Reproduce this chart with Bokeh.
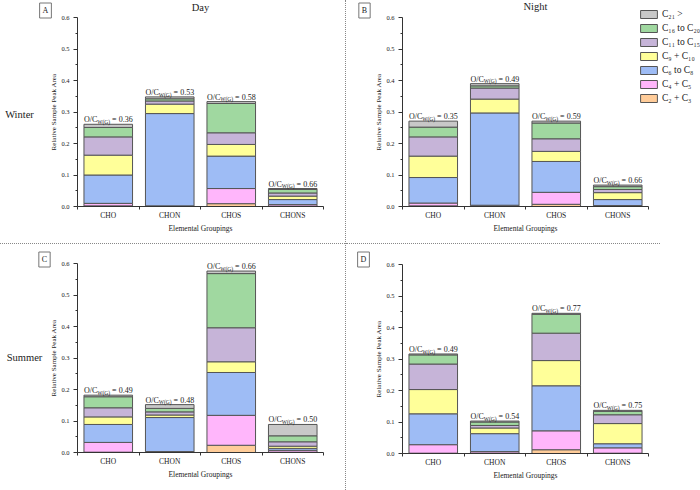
from bokeh.plotting import figure
from bokeh.models import (Range1d, FixedTicker, Label, Legend, LegendItem, Div,
                          ColumnDataSource, PrintfTickFormatter)
from bokeh.layouts import row, column
from bokeh.embed import file_html
from bokeh.resources import INLINE

# ---------------- data ----------------
CATEGORIES = ["CHO", "CHON", "CHOS", "CHONS"]
COMPONENTS = ["c2_3", "c4_5", "c6_8", "c9_10", "c11_15", "c16_20", "c21"]
LEGEND_LABELS = ["C\u2082 + C\u2083", "C\u2084 + C\u2085", "C\u2086 to C\u2088",
                 "C\u2089 + C\u2081\u2080", "C\u2081\u2081 to C\u2081\u2085",
                 "C\u2081\u2086 to C\u2082\u2080", "C\u2082\u2081 >"]
COLORS = ["#ffcc99", "#ffb6fb", "#9ebcf5", "#ffff99", "#c6b4d8", "#a0d8a0", "#c8c8c8"]
Y_TICKS = [0.0, 0.1, 0.2, 0.3, 0.4, 0.5, 0.6]
Y_MINOR = [0.05, 0.15, 0.25, 0.35, 0.45, 0.55]
ROW_LABELS = ["Winter", "Summer"]
COL_LABELS = ["Day", "Night"]
PANEL_LETTERS = ["A", "B", "C", "D"]

# A: Winter / Day
A_C2_3 = [0.002, 0.001, 0.009, 0.001]
A_C4_5 = [0.008, 0.001, 0.048, 0.005]
A_C6_8 = [0.090, 0.293, 0.103, 0.016]
A_C9_10 = [0.063, 0.030, 0.037, 0.011]
A_C11_15 = [0.058, 0.010, 0.037, 0.010]
A_C16_20 = [0.030, 0.007, 0.093, 0.011]
A_C21 = [0.010, 0.006, 0.006, 0.003]
A_OC = [0.36, 0.53, 0.58, 0.66]

# B: Winter / Night
B_C2_3 = [0.002, 0.001, 0.007, 0.001]
B_C4_5 = [0.009, 0.003, 0.038, 0.002]
B_C6_8 = [0.081, 0.293, 0.098, 0.019]
B_C9_10 = [0.068, 0.044, 0.032, 0.022]
B_C11_15 = [0.061, 0.035, 0.040, 0.010]
B_C16_20 = [0.031, 0.007, 0.050, 0.009]
B_C21 = [0.019, 0.007, 0.006, 0.005]
B_OC = [0.35, 0.49, 0.59, 0.66]

# C: Summer / Day
C_C2_3 = [0.001, 0.001, 0.023, 0.001]
C_C4_5 = [0.031, 0.002, 0.095, 0.006]
C_C6_8 = [0.057, 0.108, 0.136, 0.006]
C_C9_10 = [0.024, 0.008, 0.034, 0.007]
C_C11_15 = [0.029, 0.010, 0.108, 0.014]
C_C16_20 = [0.035, 0.011, 0.172, 0.019]
C_C21 = [0.005, 0.012, 0.008, 0.036]
C_OC = [0.49, 0.48, 0.66, 0.50]

# D: Summer / Night
D_C2_3 = [0.001, 0.001, 0.012, 0.001]
D_C4_5 = [0.027, 0.005, 0.060, 0.017]
D_C6_8 = [0.098, 0.057, 0.143, 0.013]
D_C9_10 = [0.077, 0.018, 0.080, 0.064]
D_C11_15 = [0.081, 0.008, 0.087, 0.028]
D_C16_20 = [0.029, 0.011, 0.060, 0.011]
D_C21 = [0.003, 0.003, 0.003, 0.003]
D_OC = [0.49, 0.54, 0.77, 0.75]

FONT = "Liberation Serif"
PX_PER_CAT = 61.5      # px per category
PX_PER_UNIT = 315.0    # px per 1.0 of y
BAR_W = 0.79
TXT = "#222222"

# Times / Liberation Serif advance widths (em)
_W = {"O": 0.722, "/": 0.278, "C": 0.667, "W": 0.944, "G": 0.722, "(": 0.333, ")": 0.333,
      " ": 0.25, "=": 0.564, ".": 0.25}


def tw(s, size):
    return sum(_W.get(ch, 0.5) for ch in s) * size


def make_panel(series, oc, fw, fh, axis_x, axis_y):
    """The frame covers the whole figure; both axes sit at fixed locations inside it.
    axis_x / axis_y: px (from frame left / top) where data x = 0.5 and y = 0 lie."""
    x0 = 0.5 - axis_x / PX_PER_CAT
    x1 = 0.5 + (fw - axis_x) / PX_PER_CAT
    y0 = -(fh - axis_y) / PX_PER_UNIT
    y1 = axis_y / PX_PER_UNIT
    p = figure(frame_width=fw, frame_height=fh, output_backend="svg",
               toolbar_location=None, x_range=Range1d(x0, x1), y_range=Range1d(y0, y1),
               min_border_left=0, min_border_right=0, min_border_top=0,
               min_border_bottom=0, title=None)
    p.outline_line_color = None
    p.grid.visible = False
    p.background_fill_color = "white"
    p.border_fill_color = "white"

    data = {"x": [1, 2, 3, 4]}
    for name, vals in zip(COMPONENTS, series):
        data[name] = vals
    src = ColumnDataSource(data)
    rends = p.vbar_stack(COMPONENTS, x="x", width=BAR_W, source=src,
                         fill_color=COLORS, line_color="#555555", line_width=1)

    xa = p.xaxis[0]
    xa.fixed_location = 0
    xa.ticker = FixedTicker(ticks=[1, 2, 3, 4], minor_ticks=[0.5, 1.5, 2.5, 3.5, 4.5])
    xa.major_label_overrides = {i + 1: c for i, c in enumerate(CATEGORIES)}
    xa.bounds = (0.5, 4.5)
    xa.major_tick_out = 0
    xa.major_tick_in = 0
    xa.minor_tick_out = 3
    xa.minor_tick_in = 0
    xa.axis_label = "Elemental Groupings"
    xa.major_label_standoff = 1
    xa.axis_label_standoff = 1

    ya = p.yaxis[0]
    ya.fixed_location = 0.5
    ya.bounds = (0, 0.6)
    ya.ticker = FixedTicker(ticks=Y_TICKS, minor_ticks=Y_MINOR)
    ya.formatter = PrintfTickFormatter(format="%.1f")
    ya.major_tick_out = 4
    ya.major_tick_in = 0
    ya.minor_tick_out = 2
    ya.minor_tick_in = 0
    ya.axis_label = "Relative Sample Peak Area"
    ya.major_label_standoff = 4
    ya.axis_label_standoff = 0

    for ax in (xa, ya):
        ax.axis_line_color = "#333333"
        ax.major_tick_line_color = "#333333"
        ax.minor_tick_line_color = "#333333"
        ax.major_label_text_font = FONT
        ax.axis_label_text_font = FONT
        ax.axis_label_text_font_style = "normal"
        ax.major_label_text_color = TXT
        ax.axis_label_text_color = TXT
    xa.major_label_text_font_size = "7.5px"
    ya.major_label_text_font_size = "6.5px"
    xa.axis_label_text_font_size = "7.5px"
    ya.axis_label_text_font_size = "7px"

    totals = [sum(v) for v in zip(*series)]
    main, sub = 8, 5.5
    for i, (tot, val) in enumerate(zip(totals, oc)):
        xl = (i + 1) - BAR_W / 2
        w1 = tw("O/C", main)
        w2 = tw("W(G)", sub)
        txt = "= %.2f" % val
        parts = [("O/C", main, 0, 4.5), ("W(G)", sub, w1, 2.3),
                 (txt, main, w1 + w2 + tw(" ", main), 4.5)]
        for t, sz, xo, yo in parts:
            p.add_layout(Label(x=xl, y=tot, x_offset=xo, y_offset=yo, text=t,
                               text_font=FONT, text_font_size="%spx" % sz,
                               text_color=TXT, text_align="left",
                               text_baseline="alphabetic"))
    return p, rends


def put_text(p, fl, fb, px, py, text, size, align="center", box=False):
    # px, py: page pixel position; fl, fb: page position of data point (0.5, 0)
    kw = {}
    if box:
        kw = dict(border_line_color="#777777", border_line_width=1,
                  background_fill_color="white", padding=3)
    p.add_layout(Label(x=0.5, y=0, x_offset=px - fl, y_offset=fb - py, text=text,
                       text_font=FONT, text_font_size=size, text_color=TXT,
                       text_align=align, text_baseline="middle", **kw))


# page geometry: A x0-345 y0-243; separators; B x346-700; C/D y244-490
pA, _ = make_panel([A_C2_3, A_C4_5, A_C6_8, A_C9_10, A_C11_15, A_C16_20, A_C21], A_OC,
                   345, 243, 77, 206)
pB, rB = make_panel([B_C2_3, B_C4_5, B_C6_8, B_C9_10, B_C11_15, B_C16_20, B_C21], B_OC,
                    354, 243, 56, 206)
pC, _ = make_panel([C_C2_3, C_C4_5, C_C6_8, C_C9_10, C_C11_15, C_C16_20, C_C21], C_OC,
                   345, 246, 77, 208)
pD, _ = make_panel([D_C2_3, D_C4_5, D_C6_8, D_C9_10, D_C11_15, D_C16_20, D_C21], D_OC,
                   354, 246, 56, 209)

# (page px of data point x=0.5,y=0 per panel)
put_text(pA, 77, 206, 45, 10, PANEL_LETTERS[0], "8px", box=True)
put_text(pB, 402, 206, 364, 10, PANEL_LETTERS[1], "8px", box=True)
put_text(pC, 77, 452, 44, 259, PANEL_LETTERS[2], "8px", box=True)
put_text(pD, 402, 453, 363, 259, PANEL_LETTERS[3], "8px", box=True)
put_text(pA, 77, 206, 200, 7, COL_LABELS[0], "10.5px")
put_text(pB, 402, 206, 535, 6, COL_LABELS[1], "10.5px")
put_text(pA, 77, 206, 19, 114, ROW_LABELS[0], "10.5px")
put_text(pC, 77, 452, 24, 357, ROW_LABELS[1], "10.5px")

items = [LegendItem(label=lab, renderers=[r]) for lab, r in zip(LEGEND_LABELS, rB)][::-1]
legend = Legend(items=items, location=(292, 140), orientation="vertical",
                glyph_width=21, glyph_height=10, label_height=10, label_width=10,
                spacing=4, padding=0, margin=0, border_line_color=None,
                background_fill_alpha=0, label_text_font=FONT,
                label_text_font_size="9.5px", label_standoff=3,
                label_text_color=TXT)
pB.add_layout(legend)

vsep = Div(text="", width=1, height=490, margin=0,
           styles={"border-left": "1px dotted #888888", "box-sizing": "border-box"})
hsepL = Div(text="", width=345, height=1, margin=0,
            styles={"border-top": "1px dotted #888888", "box-sizing": "border-box"})
hsepR = Div(text="", width=314, height=1, margin=0,
            styles={"border-top": "1px dotted #888888", "box-sizing": "border-box"})

layout = row(column(pA, hsepL, pC), vsep, column(pB, hsepR, pD))

open("out.html", "w").write(file_html(layout, INLINE))
